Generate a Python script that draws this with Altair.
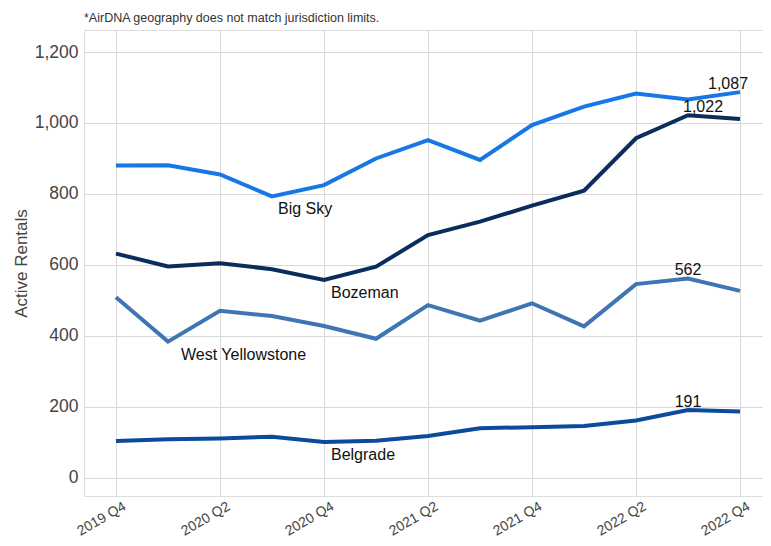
import altair as alt
import pandas as pd

quarters = ["2019 Q4", "2020 Q1", "2020 Q2", "2020 Q3", "2020 Q4", "2021 Q1", "2021 Q2",
            "2021 Q3", "2021 Q4", "2022 Q1", "2022 Q2", "2022 Q3", "2022 Q4"]
big_sky = [880, 881, 855, 793, 825, 900, 952, 896, 994, 1046, 1083, 1066, 1087]
bozeman = [632, 596, 605, 588, 558, 595, 684, 722, 767, 809, 957, 1022, 1011]
west_yellowstone = [509, 384, 471, 456, 428, 392, 487, 443, 492, 427, 546, 562, 527]
belgrade = [104, 109, 111, 116, 101, 105, 118, 140, 143, 146, 162, 191, 187]

series_names = ["Big Sky", "Bozeman", "West Yellowstone", "Belgrade"]
series_values = [big_sky, bozeman, west_yellowstone, belgrade]
series_colors = ["#1877e6", "#0b2d5c", "#4075b4", "#0c4b9c"]
tick_index = [0, 2, 4, 6, 8, 10, 12]
y_ticks = [0, 200, 400, 600, 800, 1000, 1200]
caption = "*AirDNA geography does not match jurisdiction limits."

rows = []
for name, vals in zip(series_names, series_values):
    for i, (q, v) in enumerate(zip(quarters, vals)):
        rows.append({"qi": i, "quarter": q, "value": v, "series": name})
df = pd.DataFrame(rows)

# label points: series name at minimum, value at maximum
min_rows = df.loc[df.groupby("series")["value"].idxmin()].copy()
max_rows = df.loc[df.groupby("series")["value"].idxmax()].copy()
max_rows["label"] = max_rows["value"].map(lambda v: f"{v:,}")

FONT = "Liberation Sans"
label_expr = "[" + ",".join(f"'{q}'" for q in quarters) + "][datum.value]"

x_enc = alt.X("qi:Q",
              scale=alt.Scale(domain=[-0.615, 12.442], nice=False, zero=False),
              axis=alt.Axis(values=tick_index, labelExpr=label_expr, title=None,
                            labelAngle=-30, labelAlign="right", labelBaseline="top",
                            labelFontSize=14, labelColor="#444444",
                            domain=False, ticks=False, labelPadding=3, labelOffset=5,
                            grid=True, gridColor="#d9d9d9"))
y_enc = alt.Y("value:Q",
              scale=alt.Scale(domain=[-51, 1262], nice=False, zero=False),
              axis=alt.Axis(values=y_ticks, format=",d", title="Active Rentals",
                            titleFontSize=17, titleFontWeight="normal",
                            titleColor="#444444", titlePadding=4,
                            labelFontSize=17.5, labelColor="#444444",
                            domain=False, ticks=False, labelPadding=6,
                            grid=True, gridColor="#d9d9d9"))
color_enc = alt.Color("series:N", scale=alt.Scale(domain=series_names, range=series_colors),
                      legend=None)

lines = alt.Chart(df).mark_line(strokeWidth=4, interpolate="linear").encode(
    x=x_enc, y=y_enc, color=color_enc, detail="series:N")

layers = [lines]

name_dx = {"Big Sky": 6, "Bozeman": 7, "West Yellowstone": 13, "Belgrade": 7}
for name in series_names:
    layers.append(
        alt.Chart(min_rows[min_rows["series"] == name]).mark_text(
            align="left", baseline="middle", dx=name_dx[name], dy=13,
            fontSize=16, font=FONT, color="#111111").encode(
            x="qi:Q", y="value:Q", text="series:N"))

value_dx = {"Big Sky": -12, "Bozeman": 15, "West Yellowstone": 0, "Belgrade": 0}
for name in series_names:
    layers.append(
        alt.Chart(max_rows[max_rows["series"] == name]).mark_text(
            align="center", baseline="middle", dx=value_dx[name], dy=-8,
            fontSize=16, font=FONT, color="#111111").encode(
            x="qi:Q", y="value:Q", text="label:N"))

chart = alt.layer(*layers).properties(
    width=679, height=466,
    title=alt.TitleParams(caption, anchor="start", frame="group", fontSize=12.5,
                          font=FONT, fontWeight="normal", color="#333333",
                          offset=8, dy=15, baseline="bottom"),
    autosize=alt.AutoSizeParams(type="none"),
    padding={"left": 76, "top": 22, "right": 0, "bottom": 42},
).configure_view(stroke=None).configure(font=FONT)

chart.save("out.html", embed_options={"renderer": "svg", "actions": False})
